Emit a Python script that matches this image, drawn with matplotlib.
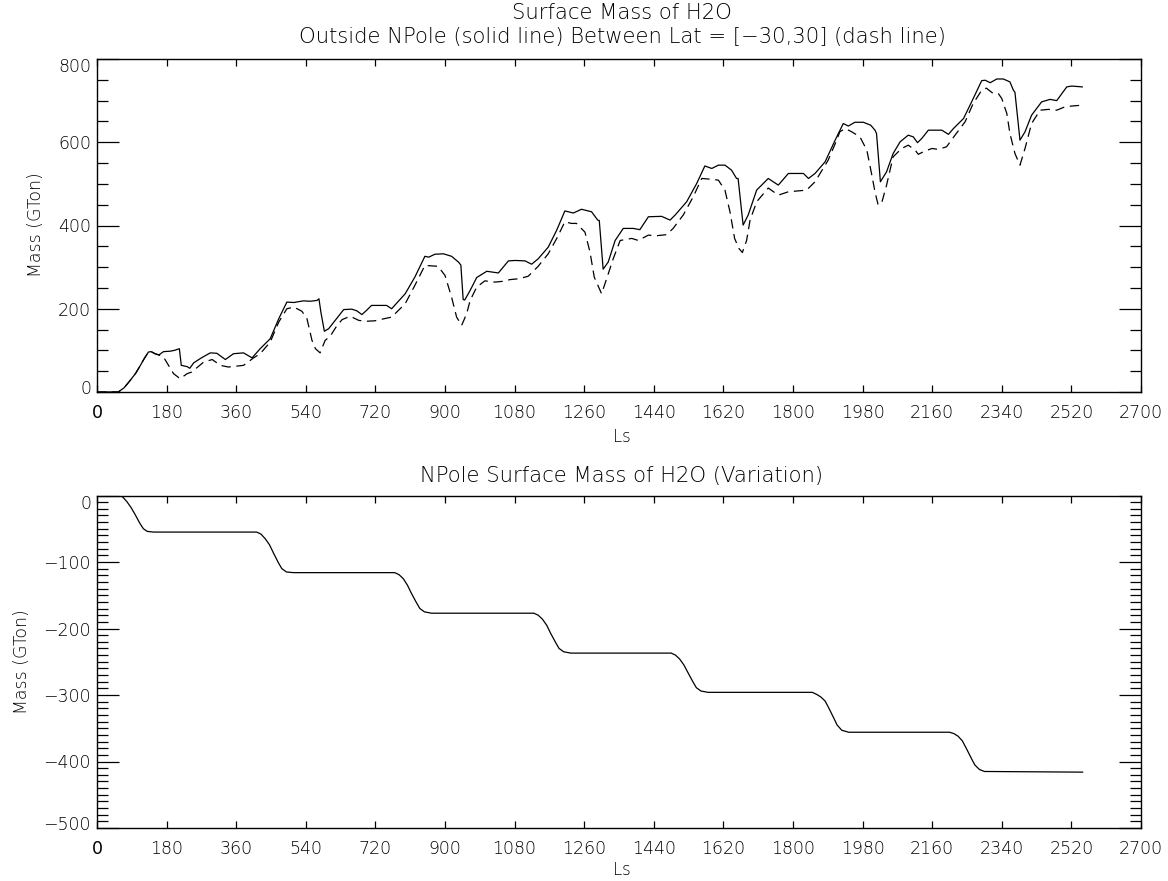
import matplotlib
matplotlib.use("Agg")
import matplotlib.pyplot as plt
import matplotlib.transforms as mtransforms
from matplotlib.ticker import MultipleLocator, FixedLocator
import numpy as np

# ---- Surface water outside the north pole (solid) ----
ls_outside = [0, 55, 70, 86, 100, 111, 122, 133, 140, 150, 160, 172, 189, 200, 213,
              218, 233, 240, 250, 270, 293, 310, 332, 353, 379, 401, 422, 448, 470,
              491, 509, 534, 551, 569, 574, 579, 588, 599, 616, 638, 659, 672, 685,
              697, 710, 749, 762, 797, 822, 848, 858, 874, 896, 917, 935, 941, 947,
              951, 965, 982, 1008, 1038, 1064, 1081, 1107, 1124, 1141, 1167, 1189,
              1210, 1232, 1253, 1279, 1295, 1299, 1309, 1322, 1340, 1361, 1387, 1404,
              1426, 1460, 1482, 1495, 1525, 1551, 1572, 1590, 1607, 1624, 1641, 1654,
              1658, 1671, 1684, 1706, 1736, 1762, 1788, 1827, 1840, 1857, 1883, 1909,
              1930, 1943, 1960, 1982, 2001, 2012, 2016, 2026, 2042, 2059, 2077, 2098,
              2111, 2122, 2133, 2150, 2185, 2202, 2215, 2241, 2262, 2288, 2297, 2310,
              2327, 2344, 2361, 2370, 2374, 2387, 2400, 2417, 2443, 2465, 2482, 2508,
              2521, 2548]
mass_outside = [0, 0, 10, 28, 45, 62, 80, 96, 97, 92, 89, 97, 98, 100, 104,
                64, 61, 57, 70, 82, 94, 93, 78, 92, 94, 82, 104, 128, 176,
                216, 215, 219, 218, 220, 224, 192, 146, 152, 172, 198, 199, 195, 186,
                196, 208, 208, 200, 236, 276, 326, 324, 331, 332, 326, 312, 305, 222,
                221, 244, 275, 290, 286, 315, 316, 315, 307, 320, 348, 389,
                435, 430, 439, 433, 413, 412, 295, 312, 364, 393, 393, 390,
                421, 422, 413, 425, 457, 501, 543, 537, 545, 545, 533, 513,
                513, 401, 425, 485, 513, 497, 525, 525, 513, 525, 553, 605,
                645, 639, 648, 648, 641, 629, 621, 505, 529, 573, 601, 617,
                613, 599, 609, 629, 629, 619, 633, 657, 697, 748, 749, 743,
                752, 752, 745, 725, 720, 605, 625, 665, 697, 703, 700, 733,
                735, 733]

# ---- Surface water between latitudes -30 and 30 (dashed) ----
ls_tropics = [0, 55, 70, 86, 100, 111, 122, 133, 140, 150, 160, 172, 185, 198, 215,
              233, 245, 276, 298, 319, 340, 379, 405, 422, 448, 470, 491, 509, 530,
              543, 556, 565, 577, 590, 603, 621, 634, 655, 677, 697, 718, 762, 797,
              822, 848, 865, 882, 900, 917, 930, 943, 956, 965, 982, 1003, 1029, 1050,
              1068, 1090, 1115, 1141, 1167, 1189, 1210, 1227, 1240, 1262, 1275, 1286,
              1305, 1318, 1335, 1353, 1383, 1400, 1426, 1443, 1473, 1490, 1516, 1542,
              1564, 1590, 1607, 1624, 1637, 1649, 1660, 1669, 1680, 1689, 1706, 1736,
              1762, 1788, 1835, 1857, 1891, 1913, 1921, 1935, 1952, 1973, 1991, 2003,
              2012, 2020, 2029, 2042, 2059, 2081, 2098, 2116, 2124, 2137, 2159, 2176,
              2197, 2219, 2245, 2266, 2288, 2300, 2318, 2331, 2340, 2353, 2361, 2374,
              2387, 2400, 2417, 2439, 2461, 2482, 2503, 2521, 2547]
mass_tropics = [0, 0, 10, 28, 45, 62, 80, 96, 97, 92, 89, 84, 64, 44, 32,
                44, 48, 72, 78, 64, 60, 64, 82, 92, 120, 168, 200, 204, 194,
                176, 124, 104, 94, 124, 134, 160, 174, 182, 172, 170, 171, 180, 212,
                256, 304, 303, 302, 280, 228, 180, 160, 188, 220, 252, 267, 264, 266,
                270, 272, 278, 302, 332, 369, 409, 405, 405, 384, 336, 276,
                236, 272, 320, 364, 369, 364, 377, 375, 378, 393, 425, 469,
                513, 511, 509, 485, 433, 369, 345, 335, 364, 413, 457, 490,
                473, 481, 485, 505, 557, 605, 625, 633, 625, 613, 581, 525,
                481, 450, 453, 497, 565, 585, 593, 581, 571, 577, 585, 583,
                589, 617, 649, 693, 725, 730, 717, 717, 705, 669, 621, 573,
                545, 585, 645, 677, 679, 677, 685, 687, 689]

# ---- North pole surface water variation ----
ls_npole = [0, 55, 66, 77, 88, 98, 111, 120, 130, 146,
            413, 424, 435, 446, 456, 469, 478, 490, 508,
            770, 781, 792, 803, 813, 826, 835, 847, 865,
            1130, 1141, 1152, 1163, 1173, 1186, 1195, 1207, 1225,
            1485, 1496, 1507, 1518, 1528, 1541, 1550, 1562, 1580,
            1850, 1861, 1872, 1883, 1893, 1904, 1914, 1926, 1944,
            2205, 2216, 2227, 2238, 2248, 2261, 2270, 2282, 2295, 2549]
mass_npole = [0, 0, -2, -9, -18, -28, -42, -50, -54, -55,
              -55, -58, -65, -74, -86, -101, -110, -115, -116,
              -116, -119, -125, -135, -147, -161, -170, -175, -177,
              -177, -180, -186, -195, -207, -221, -230, -235, -237,
              -237, -240, -246, -255, -266, -280, -289, -294, -296,
              -296, -299, -303, -309, -320, -333, -345, -353, -356,
              -356, -358, -362, -369, -380, -395, -405, -412, -415, -416]

x_ticks = list(range(0, 2701, 180))
top_yticks = [0, 200, 400, 600, 800]
bottom_yticks = [0, -100, -200, -300, -400, -500]

plt.rcParams["font.family"] = ["DejaVu Sans"]
plt.rcParams["font.weight"] = "light"
plt.rcParams["axes.linewidth"] = 1.0

W, H = 1168, 881
fig = plt.figure(figsize=(W / 100, H / 100), dpi=100)


def frac_box(x0, y0, x1, y1):
    return [x0 / W, 1 - y1 / H, (x1 - x0) / W, (y1 - y0) / H]


ax1 = fig.add_axes(frac_box(97, 59, 1141, 392))
ax2 = fig.add_axes(frac_box(97, 495.5, 1141, 828))

TICK_FS = 12.5
LW = 0.9


def style_axes(ax, yticks, ylim, yminor):
    ax.set_xlim(0, 2700)
    ax.set_ylim(*ylim)
    ax.xaxis.set_major_locator(FixedLocator(x_ticks))
    ax.yaxis.set_major_locator(FixedLocator(yticks))
    ax.yaxis.set_minor_locator(MultipleLocator(yminor))
    ax.set_xticklabels([str(v) for v in x_ticks])
    ax.set_yticklabels([str(v).replace("-", "\u2212") for v in yticks])
    ax.tick_params(which="both", direction="in", top=True, right=True,
                   labelsize=TICK_FS, width=0.9, color="black")
    ax.tick_params(axis="x", which="major", length=4.8, pad=9)
    ax.tick_params(axis="y", which="major", length=15.6, pad=4.3)
    ax.tick_params(axis="y", which="minor", length=7.9)
    ax.tick_params(axis="x", which="minor", length=0)
    for sp in ax.spines.values():
        sp.set_color("black")
    # the shared origin label is printed a little heavier
    ax.get_xticklabels()[0].set_fontweight("normal")


def nudge(label, dy_px):
    label.set_transform(label.get_transform() +
                        mtransforms.ScaledTranslation(0, dy_px / 100, fig.dpi_scale_trans))


style_axes(ax1, top_yticks, (0, 800), 50)
style_axes(ax2, bottom_yticks, (-500, 0), 10)

# keep the end labels inside the frame
yl1 = ax1.get_yticklabels()
nudge(yl1[0], 5)
nudge(yl1[-1], -6.5)
yl2 = ax2.get_yticklabels()
nudge(yl2[0], -6.5)
nudge(yl2[-1], 4.5)

ax1.plot(ls_outside, mass_outside, color="black", lw=LW)
ax1.plot(ls_tropics, mass_tropics, color="black", lw=LW, dashes=(7.5, 4.5))
ax2.plot(ls_npole, mass_npole, color="black", lw=LW)

cx = 622 / W
TITLE_FS = 15.2
fig.text(cx, 1 - 13 / H, "Surface Mass of H2O", ha="center", va="center", fontsize=TITLE_FS)
fig.text(cx, 1 - 37 / H, "Outside NPole (solid line) Between Lat = [\u221230,30] (dash line)",
         ha="center", va="center", fontsize=TITLE_FS)
fig.text(cx, 1 - 476 / H, "NPole Surface Mass of H2O (Variation)",
         ha="center", va="center", fontsize=TITLE_FS)

fig.text(cx, 1 - 437 / H, "Ls", ha="center", va="center", fontsize=12)
fig.text(cx, 1 - 870 / H, "Ls", ha="center", va="center", fontsize=12)
fig.text(36 / W, 1 - 225 / H, "Mass (GTon)", rotation=90, ha="center", va="center", fontsize=12.5)
fig.text(22 / W, 1 - 662 / H, "Mass (GTon)", rotation=90, ha="center", va="center", fontsize=12.5)

fig.savefig("out.png", dpi=100, facecolor="white")
